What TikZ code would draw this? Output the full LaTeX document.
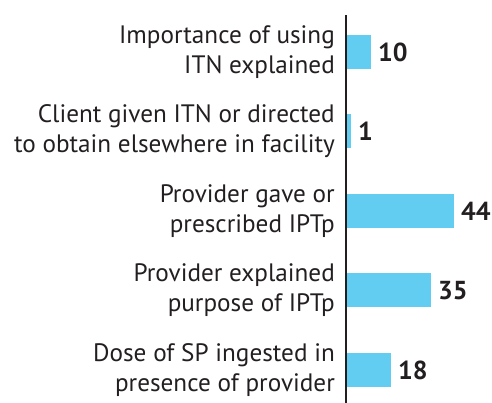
\documentclass[tikz,border=0pt]{standalone}
\usepackage{fontspec}
\setmainfont{PT Sans}
\usetikzlibrary{positioning}
\definecolor{barblue}{HTML}{62CDF0}
\definecolor{axisgray}{HTML}{231F20}
\tikzset{bar/.style = {fill=barblue, minimum height=34pt, inner sep=0pt,
                       anchor=west, outer sep=0pt},
         label/.style = {anchor=east, align=right, inner sep=0pt, text=axisgray,
                          font=\fontsize{25.2}{30}\selectfont},
         value/.style = {right=7pt of #1, inner sep=0pt, text=axisgray,
                         font=\fontsize{26}{26}\selectfont\bfseries}}

\begin{document}
\begin{tikzpicture}[x=1pt, y=1pt]
      \useasboundingbox (0, 0) rectangle (492, 403);

      \draw [line width=2pt, axisgray] (346, 0) -- (346, 388);

      \node [bar, minimum width=24pt] (b1) at (347, 351) {};
      \node [bar, minimum width=4pt] (b2) at (347, 271.5) {};
      \node [bar, minimum width=107pt] (b3) at (347, 192) {};
      \node [bar, minimum width=84pt] (b4) at (347, 112.5) {};
      \node [bar, minimum width=44pt] (b5) at (347, 33) {};

      \node [value=b1] (v1) {10};
      \node [value=b2] (v2) {1};
      \node [value=b3] (v3) {44};
      \node [value=b4] (v4) {35};
      \node [value=b5] (v5) {18};

      \node [label] (l1) at (335, 351) {Importance of using\\ITN explained};
      \node [label] (l2) at (335, 271.5) {Client given ITN or directed\\to obtain elsewhere in facility};
      \node [label] (l3) at (335, 192) {Provider gave or\\prescribed IPTp};
      \node [label] (l4) at (335, 112.5) {Provider explained\\purpose of IPTp};
      \node [label] (l5) at (335, 33) {Dose of SP ingested in\\presence of provider};
    \end{tikzpicture}
\end{document}
